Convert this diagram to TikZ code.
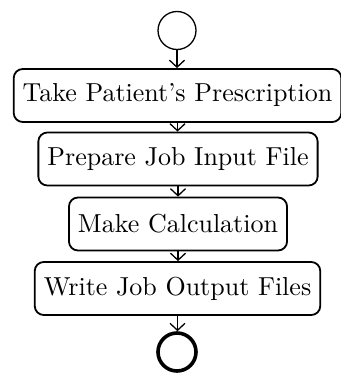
\documentclass[tikz,border=0pt]{standalone}
\usepackage{fontspec}
\setmainfont{lmroman10-regular}[Extension=.otf]
\usetikzlibrary{arrows.meta}
\begin{document}
\begin{tikzpicture}[x=1pt,y=1pt,
  stepbox/.style={draw,line width=1.8pt,rounded corners=9pt,inner xsep=9pt,inner ysep=0pt,
    minimum height=53pt,font=\fontsize{26}{31}\selectfont},
  arr/.style={line width=1.3pt,-{Straight Barb[length=7pt,width=15pt,line width=1.3pt]}}]
\useasboundingbox (0,0) rectangle (340,-374);
\node[circle,draw,line width=1.3pt,minimum size=38pt,inner sep=0pt] (s) at (177,-30.5) {};
\node[stepbox] (b1) at (177.5,-95.5) {Take Patient’s Prescription};
\node[stepbox] (b2) at (178,-159) {Prepare Job Input File};
\node[stepbox] (b3) at (178,-224) {Make Calculation};
\node[stepbox] (b4) at (177.5,-288.5) {Write Job Output Files};
\node[circle,draw,line width=3.6pt,minimum size=38pt,inner sep=0pt] (e) at (177,-352) {};
\draw[arr] (s) -- (s |- b1.north);
\draw[arr] (b1) -- (b1 |- b2.north);
\draw[arr] (b2) -- (b2 |- b3.north);
\draw[arr] (b3) -- (b3 |- b4.north);
\draw[arr] (b4) -- (b4 |- e.north);
\end{tikzpicture}
\end{document}
